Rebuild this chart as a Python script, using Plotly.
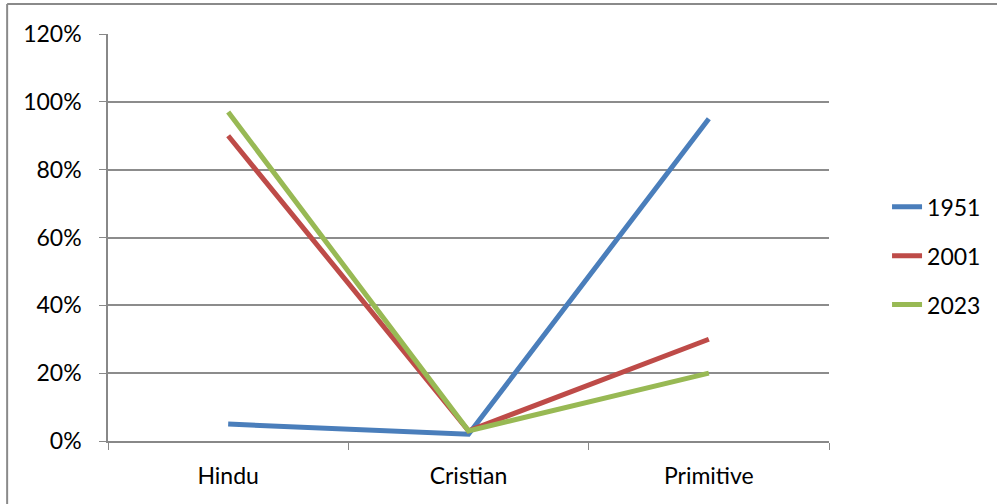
import plotly.graph_objects as go

categories = ["Hindu", "Cristian", "Primitive"]
series_names = ["1951", "2001", "2023"]
values_1951 = [0.05, 0.02, 0.95]
values_2001 = [0.90, 0.03, 0.30]
values_2023 = [0.97, 0.03, 0.20]
y_ticks = [0, 0.2, 0.4, 0.6, 0.8, 1.0, 1.2]

colors = ["#4A7EBB", "#BE4B48", "#98B954"]
font_family = "Lato, Open Sans, sans-serif"
fs = 23

fig = go.Figure()
for name, vals, col in zip(series_names, [values_1951, values_2001, values_2023], colors):
    fig.add_trace(go.Scatter(
        x=categories, y=vals, name=name, mode="lines",
        line=dict(color=col, width=5), legendgroup=name,
    ))

W, H = 997, 504
l, r, t, b = 108, 167, 34, 63
pw, ph = W - l - r, H - t - b

fx = (7 - l) / pw
fy = (H - b - 4) / ph

fig.update_layout(
    width=W, height=H,
    margin=dict(l=l, r=r, t=t, b=b),
    paper_bgcolor="white", plot_bgcolor="white",
    font=dict(family=font_family, size=fs, color="black"),
    showlegend=True,
    legend=dict(x=1.079, y=0.455, xanchor="left", yanchor="middle",
                font=dict(size=fs), tracegroupgap=16, bgcolor="rgba(0,0,0,0)"),
    xaxis=dict(
        type="category", tickson="boundaries", ticks="outside", ticklen=7,
        tickcolor="#888888", showline=True, linecolor="#888888", linewidth=1.5,
        showgrid=False, range=[-0.5, 2.5], tickfont=dict(size=fs),
        ticklabelstandoff=14,
    ),
    yaxis=dict(
        range=[0, 1.2], tickvals=y_ticks, tickformat=".0%", ticks="outside",
        ticklen=7, tickcolor="#888888", showline=True, linecolor="#888888",
        linewidth=1.5, showgrid=True, gridcolor="#8c8c8c", gridwidth=1.5,
        zeroline=False, tickfont=dict(size=fs), ticklabelstandoff=13,
    ),
    shapes=[
        dict(type="line", xref="paper", yref="paper", x0=fx, x1=fx, y0=-0.3, y1=fy,
             line=dict(color="#8a8a8a", width=2)),
        dict(type="line", xref="paper", yref="paper", x0=fx, x1=1.4, y0=fy, y1=fy,
             line=dict(color="#8a8a8a", width=2)),
    ],
)

fig.write_html("out.html", config={"displayModeBar": False},
               post_script="document.body.style.margin='0';document.body.style.overflow='hidden';")
